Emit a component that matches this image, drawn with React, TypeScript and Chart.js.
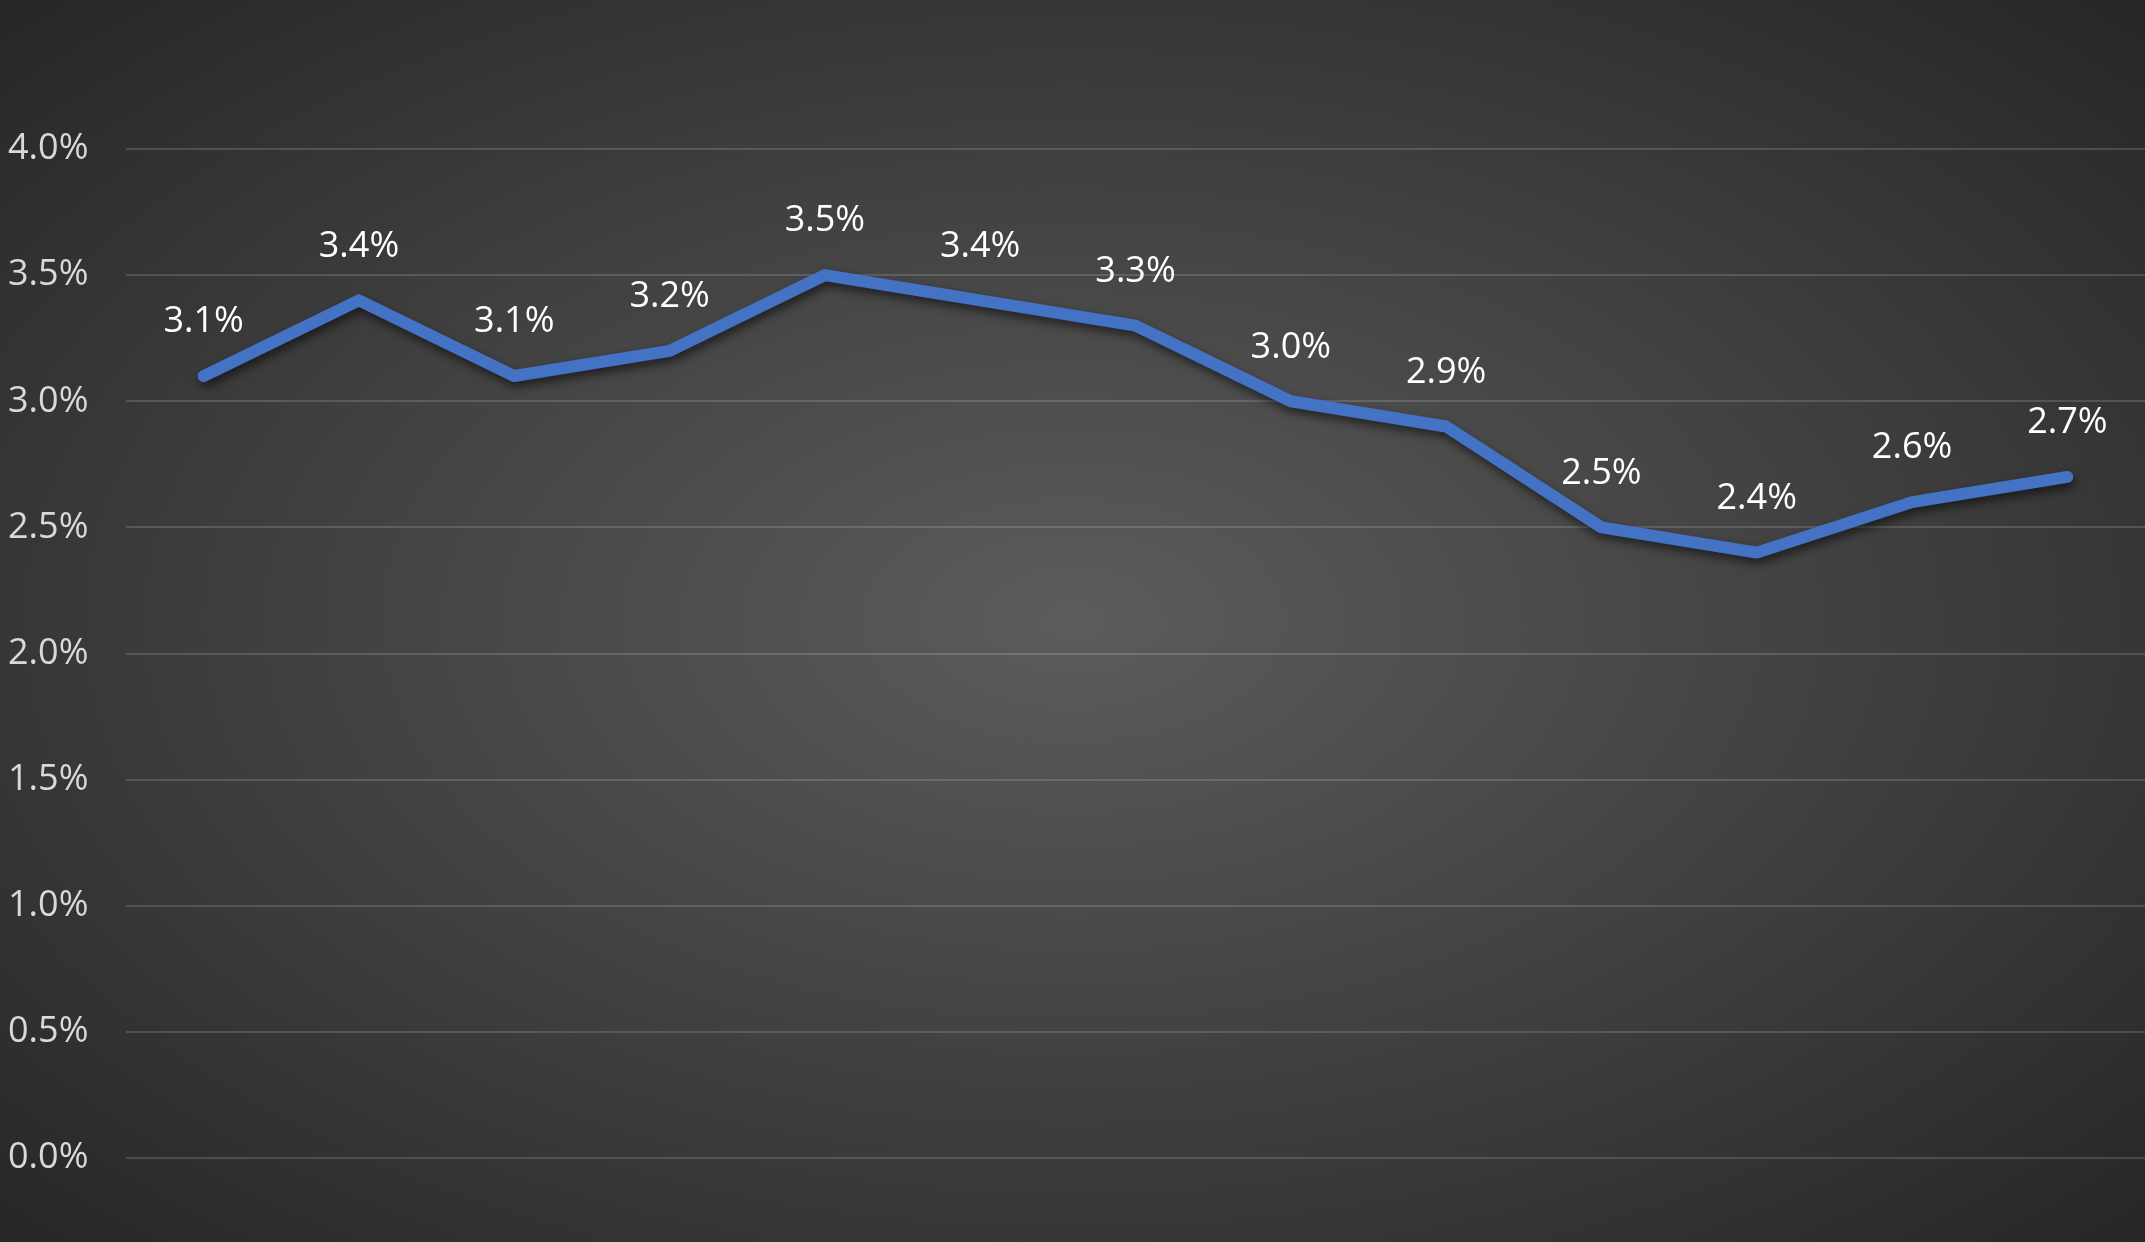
import { useEffect, useRef } from "react";
import { Chart, registerables } from "chart.js";
import type { ChartConfiguration, Plugin } from "chart.js";

Chart.register(...registerables);

// 13 titik, label kategori tidak tampil di gambar
const CATEGORIES = ["1", "2", "3", "4", "5", "6", "7", "8", "9", "10", "11", "12", "13"];
const RATES = [3.1, 3.4, 3.1, 3.2, 3.5, 3.4, 3.3, 3.0, 2.9, 2.5, 2.4, 2.6, 2.7];
const Y_TICKS = [0, 0.5, 1.0, 1.5, 2.0, 2.5, 3.0, 3.5, 4.0];

const FONT = "'Open Sans', 'Noto Sans', sans-serif";

// bayangan di bawah garis
const lineShadow: Plugin<"line"> = {
  id: "lineShadow",
  beforeDatasetDraw(chart) {
    const { ctx } = chart;
    ctx.save();
    ctx.shadowColor = "rgba(0,0,0,0.55)";
    ctx.shadowBlur = 10;
    ctx.shadowOffsetX = 2;
    ctx.shadowOffsetY = 5;
  },
  afterDatasetDraw(chart) {
    chart.ctx.restore();
  },
};

// label nilai di atas tiap titik
const valueLabels: Plugin<"line"> = {
  id: "valueLabels",
  afterDatasetsDraw(chart) {
    const { ctx } = chart;
    const meta = chart.getDatasetMeta(0);
    ctx.save();
    ctx.font = `36px ${FONT}`;
    ctx.fillStyle = "#ffffff";
    ctx.textAlign = "center";
    ctx.textBaseline = "middle";
    meta.data.forEach((pt, i) => {
      ctx.fillText(`${RATES[i].toFixed(1)}%`, pt.x, pt.y - 54);
    });
    ctx.restore();
  },
};

export default function App() {
  const canvasRef = useRef<HTMLCanvasElement | null>(null);

  useEffect(() => {
    document.body.style.margin = "0";
    const ctx = canvasRef.current!.getContext("2d")!;

    const config: ChartConfiguration<"line", number[], string> = {
      type: "line",
      data: {
        labels: CATEGORIES,
        datasets: [
          {
            data: RATES,
            borderColor: "#4472C4",
            borderWidth: 12,
            borderCapStyle: "round",
            borderJoinStyle: "round",
            pointRadius: 0,
            tension: 0,
            fill: false,
          },
        ],
      },
      options: {
        responsive: true,
        maintainAspectRatio: false,
        animation: false,
        layout: { padding: { top: 149, right: 0, bottom: 84, left: 8 } },
        plugins: {
          legend: { display: false },
          tooltip: { enabled: false },
        },
        scales: {
          x: {
            display: false,
            offset: true,
          },
          y: {
            min: 0,
            max: 4,
            afterFit(scale) {
              scale.width = 118;
            },
            afterBuildTicks(scale) {
              scale.ticks = Y_TICKS.map((v) => ({ value: v }));
            },
            ticks: {
              color: "#d9d9d9",
              crossAlign: "far",
              font: { family: FONT, size: 36 },
              callback(value) {
                return `${Number(value).toFixed(1)}%`;
              },
            },
            grid: {
              color: "rgba(255,255,255,0.15)",
              lineWidth: 2,
              drawTicks: false,
            },
            border: { display: false },
          },
        },
      },
      plugins: [lineShadow, valueLabels],
    };

    const chart = new Chart(ctx, config);
    return () => chart.destroy();
  }, []);

  return (
    <div
      style={{
        width: 2145,
        height: 1242,
        background: "radial-gradient(ellipse farthest-corner at 50% 50%, #5c5c5c 0%, #262626 100%)",
      }}
    >
      <canvas ref={canvasRef} />
    </div>
  );
}
